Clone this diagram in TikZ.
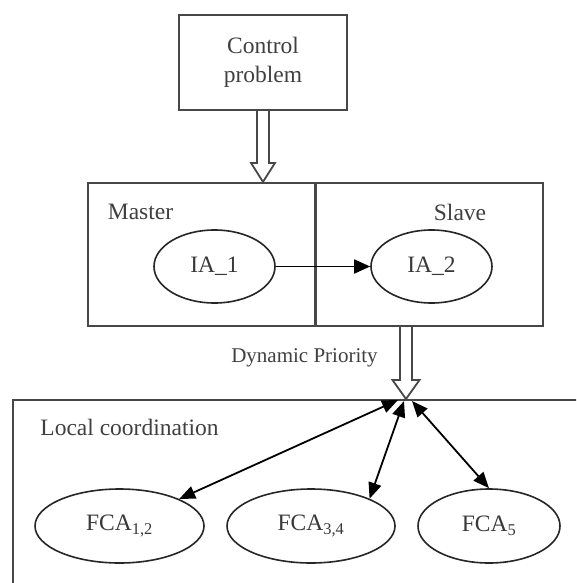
\documentclass[tikz,border=0pt]{standalone}
\usepackage{fontspec}
\setmainfont{Liberation Serif}
\usetikzlibrary{shapes.geometric,arrows.meta,calc}
\begin{document}
\begin{tikzpicture}[x=1pt,y=-1pt,
  frame/.style={draw=black!72,line width=2.2pt},
  txt/.style={font=\fontsize{23.5}{29}\selectfont,text=black!75,inner sep=0pt},
  oval/.style={ellipse,draw=black!85,line width=1.6pt,inner sep=0pt,font=\fontsize{23.5}{28}\selectfont,text=black!78},
  hollow/.style={draw=black!72,line width=1.8pt,fill=white,line join=miter},
  link/.style={draw=black,line width=1.8pt,-{Triangle[length=16pt,width=14pt]}},
  dlink/.style={draw=black,line width=1.8pt,{Triangle[length=16pt,width=13pt]}-{Triangle[length=16pt,width=13pt]}}]
\clip (0,0) rectangle (576,583);
\fill[white] (0,0) rectangle (576,583);
% boxes
\node[frame,txt,minimum width=168pt,minimum height=95pt,align=center] (control) at (263,62.5) {Control\\problem};
\node[frame,minimum width=455pt,minimum height=143pt] (ms) at (315.5,254.5) {};
\draw[frame] (ms.north) -- (ms.south);
\node[frame,minimum width=620pt,minimum height=260pt,anchor=north west] (local) at (12,399) {};
% labels
\node[txt] (master) at (140.5,212) {Master};
\node[txt] (slave) at (460,212) {Slave};
\node[txt] (loc) at (129.5,427) {Local coordination};
\node[txt,font=\fontsize{21}{25}\selectfont] (dyn) at (304.5,358) {Dynamic Priority};
% ellipses
\node[oval,minimum width=121pt,minimum height=73pt] (ia1) at (214.5,266.5) {IA\_1};
\node[oval,minimum width=121pt,minimum height=73pt] (ia2) at (431.5,266.5) {IA\_2};
\node[oval,minimum width=169pt,minimum height=74pt] (fca12) at (119.5,526) {FCA\textsubscript{1,2}};
\node[oval,minimum width=168pt,minimum height=74pt] (fca34) at (311,526) {FCA\textsubscript{3,4}};
\node[oval,minimum width=142pt,minimum height=74pt] (fca5) at (489,526) {FCA\textsubscript{5}};
% hollow arrows
\coordinate (tipA) at (control.south |- ms.north);
\draw[hollow] ($(control.south)+(-6,0)$) -- ($(tipA)+(-6,-19)$) -- ($(tipA)+(-12,-19)$) -- (tipA) -- ($(tipA)+(12,-19)$) -- ($(tipA)+(6,-19)$) -- ($(control.south)+(6,0)$);
\coordinate (hub) at (406,399);
\coordinate (srcB) at (hub |- ms.south);
\draw[hollow] ($(srcB)+(-6,0)$) -- ($(hub)+(-6,-19)$) -- ($(hub)+(-13.5,-19)$) -- (hub) -- ($(hub)+(13.5,-19)$) -- ($(hub)+(6,-19)$) -- ($(srcB)+(6,0)$);
% connectors
\draw[link] (ia1) -- (ia2);
\coordinate (h1) at (398,400);
\coordinate (h2) at (404,401);
\coordinate (h3) at (412,401);
\draw[dlink] (h1) -- (fca12);
\draw[dlink] (h2) -- (fca34.25);
\draw[dlink] (h3) -- (fca5.north);
\end{tikzpicture}
\end{document}
